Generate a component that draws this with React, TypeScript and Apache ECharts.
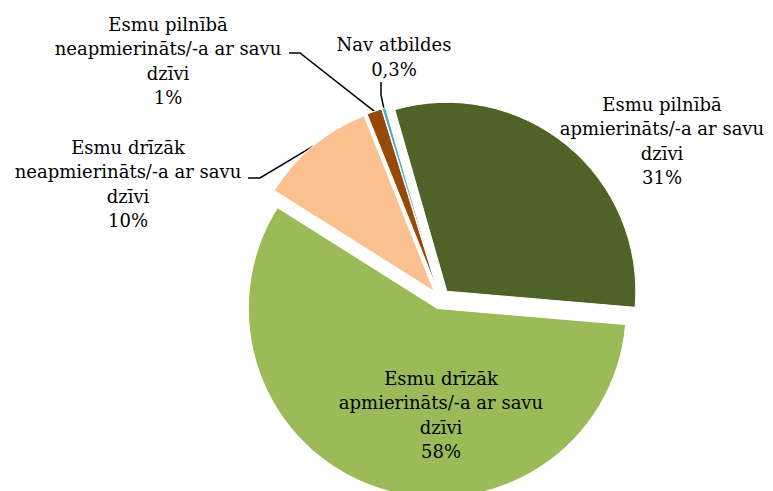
import React, { useEffect, useRef } from "react";
import * as echarts from "echarts";

const categories = [
  "Esmu pilnībā\napmierināts/-a ar savu\ndzīvi",
  "Esmu drīzāk\napmierināts/-a ar savu\ndzīvi",
  "Esmu drīzāk\nneapmierināts/-a ar savu\ndzīvi",
  "Esmu pilnībā\nneapmierināts/-a ar savu\ndzīvi",
  "Nav atbildes",
];
const values = [30.8, 57.6, 10.0, 1.3, 0.3];
const colors = ["#4F6228", "#9BBB59", "#FAC090", "#984807", "#4BACC6"];

// label block centres and leader-line bends (layout, not data)
const labelLayouts: { x: number; y: number; bend?: [number, number][] }[] = [
  { x: 662, y: 141 },
  { x: 441, y: 415 },
  { x: 128, y: 184, bend: [[260, 178], [248, 178]] },
  { x: 168, y: 61, bend: [[300, 53], [289, 53]] },
  { x: 394, y: 57, bend: [[381, 95], [381, 82]] },
];

const CENTER = [440.5, 299];
const RADIUS = 189;
const EXPLODE = 10;
const START = 106;

function fmtPct(v: number): string {
  if (v < 1) return v.toFixed(1).replace(".", ",") + "%";
  return Math.round(v) + "%";
}

export default function App() {
  const ref = useRef<HTMLDivElement>(null);
  useEffect(() => {
    document.body.style.margin = "0";
    if (!ref.current) return;
    const chart = echarts.init(ref.current, null, { renderer: "svg" });
    chart.setOption({
      animation: false,
      backgroundColor: "#ffffff",
      series: [
        {
          type: "pie",
          center: CENTER,
          radius: RADIUS,
          startAngle: START,
          clockwise: true,
          selectedMode: "multiple",
          selectedOffset: EXPLODE,
          silent: true,
          emphasis: { disabled: true },
          itemStyle: { borderColor: "#ffffff", borderWidth: 1 },
          label: { show: false },
          labelLine: { show: false },
          data: categories.map((name, i) => ({
            name,
            value: values[i],
            selected: true,
            itemStyle: { color: colors[i] },
          })),
        },
        {
          // label carrier: same geometry, invisible sectors, radius = exploded arc
          type: "pie",
          center: CENTER,
          radius: RADIUS + EXPLODE,
          startAngle: START,
          clockwise: true,
          silent: true,
          avoidLabelOverlap: false,
          emphasis: { disabled: true },
          itemStyle: { color: "rgba(0,0,0,0)", borderWidth: 0 },
          label: {
            show: true,
            position: "outside",
            fontFamily: "DejaVu Serif",
            fontSize: 18,
            lineHeight: 24.5,
            color: "#000000",
            align: "center",
            formatter: (p: any) => `${p.name}\n${fmtPct(p.value)}`,
          },
          labelLine: {
            show: true,
            length: 5,
            length2: 5,
            lineStyle: { color: "#000000", width: 1.5 },
          },
          labelLayout: (params: any) => {
            const L = labelLayouts[params.dataIndex];
            const res: any = {
              x: L.x,
              y: L.y,
              align: "center",
              verticalAlign: "middle",
            };
            if (L.bend && params.labelLinePoints && params.labelLinePoints[0]) {
              res.labelLinePoints = [params.labelLinePoints[0], L.bend[0], L.bend[1]];
            }
            return res;
          },
          data: categories.map((name, i) => ({
            name,
            value: values[i],
            labelLine: { show: i >= 2 },
          })),
        },
      ],
    });
    return () => chart.dispose();
  }, []);
  return <div ref={ref} style={{ width: 773, height: 491 }} />;
}
